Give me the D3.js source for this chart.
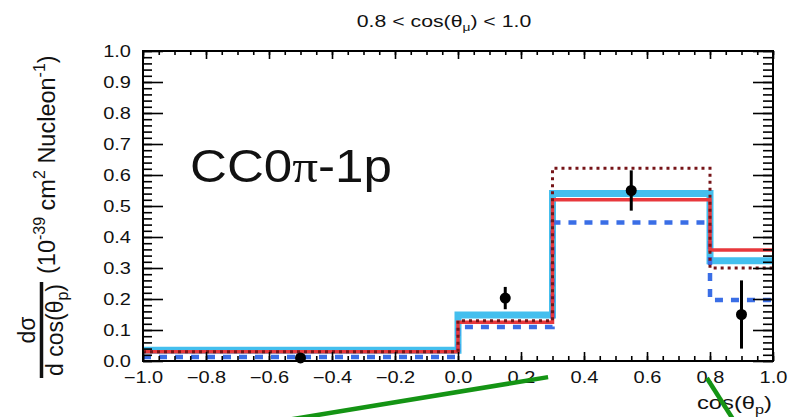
<!DOCTYPE html>
<html>
<head>
<meta charset="utf-8">
<script src="https://cdn.jsdelivr.net/npm/d3@7"></script>
<style>
  body { margin: 0; background: #fff; }
  svg { display: block; }
  text { font-family: "Liberation Sans", Arial, Helvetica, sans-serif; fill: #111; }
</style>
</head>
<body>
<svg id="chart" width="798" height="417"></svg>
<script>
// Bin edges in cos(theta_p)
const binEdges = [-1.0, 0.0, 0.3, 0.8, 1.0];

// Model predictions, one value per bin (10^-39 cm^2 / nucleon)
const modelCyan   = [0.035, 0.148, 0.540, 0.323];
const modelRed    = [0.030, 0.125, 0.520, 0.358];
const modelDotted = [0.030, 0.130, 0.622, 0.300];
const modelDashed = [0.013, 0.110, 0.447, 0.197];

// Measured cross section with uncertainties
const dataX   = [-0.5, 0.15, 0.55, 0.90];
const dataY   = [0.010, 0.203, 0.550, 0.150];
const dataErr = [0.000, 0.036, 0.065, 0.110];

// Axis ticks
const xMajor = [-1.0, -0.8, -0.6, -0.4, -0.2, 0.0, 0.2, 0.4, 0.6, 0.8, 1.0];
const yMajor = [0.0, 0.1, 0.2, 0.3, 0.4, 0.5, 0.6, 0.7, 0.8, 0.9, 1.0];
const xMinor = d3.range(-1.0, 1.0001, 0.05);
const yMinor = d3.range(0.0, 1.0001, 0.02);

// Slide annotation strokes, given in (cos(theta_p), value) coordinates
const arrowA = [[0.286, -0.052], [-0.90, -0.25]];
const arrowB = [[0.790, -0.055], [0.912, -0.250]];

const svg = d3.select("#chart");
const frameL = 143, frameR = 773, frameT = 51, frameB = 361;

const x = d3.scaleLinear().domain([-1, 1]).range([frameL, frameR]);
const y = d3.scaleLinear().domain([0, 1]).range([frameB, frameT]);

const SX = 1.25; // horizontal glyph stretch of the axis text

// ----- histogram step lines -----
const stepPts = vals => {
  const p = vals.map((v, i) => [binEdges[i], v]);
  p.push([binEdges[binEdges.length - 1], vals[vals.length - 1]]);
  return p;
};
const stepLine = d3.line().x(d => x(d[0])).y(d => y(d[1])).curve(d3.curveStepAfter);

const plot = svg.append("g");
plot.append("path").attr("d", stepLine(stepPts(modelCyan)))
  .attr("fill", "none").attr("stroke", "#44bfee").attr("stroke-width", 7);
plot.append("path").attr("d", stepLine(stepPts(modelDashed)))
  .attr("fill", "none").attr("stroke", "#3a6ee6").attr("stroke-width", 4.5)
  .attr("stroke-dasharray", "8,8");
plot.append("path").attr("d", stepLine(stepPts(modelRed)))
  .attr("fill", "none").attr("stroke", "#e8383c").attr("stroke-width", 3.5);
plot.append("path").attr("d", stepLine(stepPts(modelDotted)))
  .attr("fill", "none").attr("stroke", "#761418").attr("stroke-width", 3)
  .attr("stroke-dasharray", "3,4");

// ----- data points -----
const pts = dataX.map((d, i) => ({x: d, y: dataY[i], e: dataErr[i]}));
plot.selectAll("line.err").data(pts).join("line").attr("class", "err")
  .attr("x1", d => x(d.x)).attr("x2", d => x(d.x))
  .attr("y1", d => y(d.y - d.e)).attr("y2", d => y(d.y + d.e))
  .attr("stroke", "#000").attr("stroke-width", 3);
plot.selectAll("circle.pt").data(pts).join("circle").attr("class", "pt")
  .attr("cx", d => x(d.x)).attr("cy", d => y(d.y)).attr("r", 5.5).attr("fill", "#000");

// ----- axes (ticks drawn inward like a ROOT frame) -----
function styleAxis(g) {
  g.select(".domain").remove();
  g.selectAll(".tick line").attr("stroke", "#000").attr("stroke-width", 1.6);
}
svg.append("g").attr("transform", `translate(0,${frameB})`)
  .call(d3.axisBottom(x).tickValues(xMinor).tickSize(-5).tickFormat(""))
  .call(styleAxis);
const xAx = svg.append("g").attr("transform", `translate(0,${frameB})`)
  .call(d3.axisBottom(x).tickValues(xMajor).tickSize(-9).tickPadding(11)
    .tickFormat(d => d3.format(".1f")(d).replace("-", "\u2212")))
  .call(styleAxis);
xAx.selectAll("text").attr("font-size", 16).attr("fill", "#111")
  .attr("font-family", "Liberation Sans, Arial, sans-serif")
  .attr("transform", `scale(${SX},1)`);

svg.append("g").attr("transform", `translate(0,${frameT})`)
  .call(d3.axisTop(x).tickValues(xMinor).tickSize(-4).tickFormat(""))
  .call(styleAxis);
svg.append("g").attr("transform", `translate(0,${frameT})`)
  .call(d3.axisTop(x).tickValues(xMajor).tickSize(-8).tickFormat(""))
  .call(styleAxis);

svg.append("g").attr("transform", `translate(${frameL},0)`)
  .call(d3.axisLeft(y).tickValues(yMinor).tickSize(-9).tickFormat(""))
  .call(styleAxis);
const yAx = svg.append("g").attr("transform", `translate(${frameL},0)`)
  .call(d3.axisLeft(y).tickValues(yMajor).tickSize(-20).tickPadding(12)
    .tickFormat(d3.format(".1f")))
  .call(styleAxis);
yAx.selectAll("text").attr("font-size", 16).attr("fill", "#111")
  .attr("font-family", "Liberation Sans, Arial, sans-serif")
  .attr("x", -12 / SX)
  .attr("transform", `scale(${SX},1)`);

svg.append("g").attr("transform", `translate(${frameR},0)`)
  .call(d3.axisRight(y).tickValues(yMinor).tickSize(-10).tickFormat(""))
  .call(styleAxis);
svg.append("g").attr("transform", `translate(${frameR},0)`)
  .call(d3.axisRight(y).tickValues(yMajor).tickSize(-20).tickFormat(""))
  .call(styleAxis);

// frame
svg.append("rect").attr("x", frameL).attr("y", frameT)
  .attr("width", frameR - frameL).attr("height", frameB - frameT)
  .attr("fill", "none").attr("stroke", "#000").attr("stroke-width", 2);

// ----- titles -----
const title = svg.append("text")
  .attr("transform", `translate(444,27) scale(${SX},1)`)
  .attr("text-anchor", "middle").attr("font-size", 17);
title.append("tspan").text("0.8 < cos(\u03b8");
title.append("tspan").attr("font-size", 11).attr("dy", 4).text("\u03bc");
title.append("tspan").attr("dy", -4).text(") < 1.0");

const xTitle = svg.append("text")
  .attr("transform", `translate(772,409) scale(${SX},1)`)
  .attr("text-anchor", "end").attr("font-size", 19);
xTitle.append("tspan").text("cos(\u03b8");
xTitle.append("tspan").attr("font-size", 13).attr("dy", 5).text("p");
xTitle.append("tspan").attr("dy", -5).text(")");

// y title: fraction dσ / d cos(θp) followed by units
const yFrac = svg.append("g").attr("transform", "translate(0,330) rotate(-90)");
yFrac.append("text").attr("x", 0).attr("y", 35).attr("text-anchor", "middle")
  .attr("font-size", 23).text("d\u03c3");
yFrac.append("line").attr("x1", -48).attr("x2", 48).attr("y1", 41.5).attr("y2", 41.5)
  .attr("stroke", "#111").attr("stroke-width", 3.5);
const den = yFrac.append("text").attr("x", 0).attr("y", 63).attr("text-anchor", "middle")
  .attr("font-size", 23);
den.append("tspan").text("d cos(\u03b8");
den.append("tspan").attr("font-size", 16).attr("dy", 5).text("p");
den.append("tspan").attr("dy", -5).text(")");

const units = svg.append("g").attr("transform", "translate(55,274) rotate(-90)")
  .append("text").attr("x", 0).attr("y", 0).attr("font-size", 23.5);
units.append("tspan").text("(10");
units.append("tspan").attr("font-size", 16).attr("dy", -10).text("-39");
units.append("tspan").attr("dy", 10).text(" cm");
units.append("tspan").attr("font-size", 16).attr("dy", -10).text("2");
units.append("tspan").attr("dy", 10).text(" Nucleon");
units.append("tspan").attr("font-size", 16).attr("dy", -10).text("-1");
units.append("tspan").attr("dy", 10).text(")");

// sample label
const lab = svg.append("text").attr("x", 190).attr("y", 182)
  .attr("font-family", "Lato, 'Noto Sans', sans-serif")
  .attr("font-size", 47).attr("fill", "#111")
  .attr("textLength", 202).attr("lengthAdjust", "spacingAndGlyphs");
lab.append("tspan").text("CC0");
lab.append("tspan").attr("font-family", "'Liberation Serif', serif").text("\u03c0");
lab.append("tspan").text("-1p");

// ----- annotation strokes -----
const ann = d3.line().x(d => x(d[0])).y(d => y(d[1]));
[arrowA, arrowB].forEach(a => {
  svg.append("path").attr("d", ann(a)).attr("fill", "none")
    .attr("stroke", "#149414").attr("stroke-width", 4.5);
});
</script>
</body>
</html>
